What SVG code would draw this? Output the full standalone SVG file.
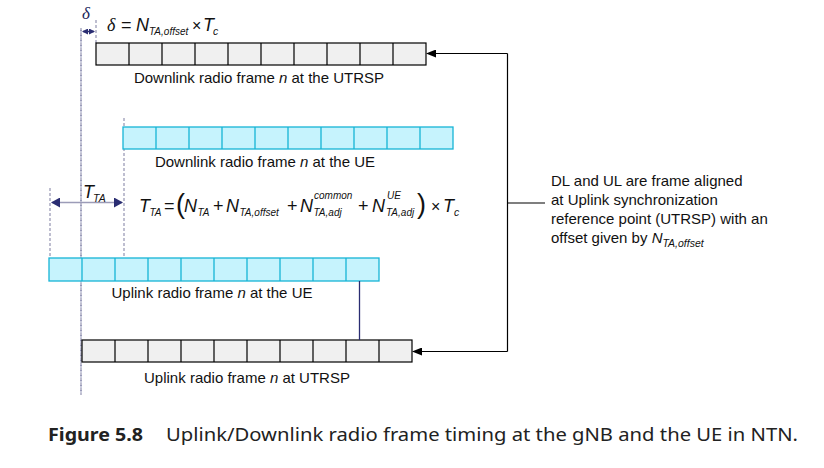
<svg xmlns="http://www.w3.org/2000/svg" width="824" height="468" viewBox="0 0 824 468">
<defs>
<marker id="ah" markerWidth="10" markerHeight="8" refX="9" refY="4" orient="auto" markerUnits="userSpaceOnUse"><path d="M0,0 L10,4 L0,8 Z" fill="#000"/></marker>
<marker id="nav" markerWidth="9" markerHeight="10" refX="8" refY="5" orient="auto-start-reverse" markerUnits="userSpaceOnUse"><path d="M0,0 L9,5 L0,10 Z" fill="#2a2d72"/></marker>
<marker id="dot" markerWidth="6" markerHeight="6" refX="5" refY="3" orient="auto-start-reverse" markerUnits="userSpaceOnUse"><path d="M0,0 L6,3 L0,6 Z" fill="#2a2d72"/></marker>
</defs>
<style>
.t{font-family:"Liberation Sans",Arial,sans-serif;font-size:15px;fill:#111}
.m{font-family:"Liberation Sans",Arial,sans-serif;font-style:italic;fill:#111}
.gr{fill:#f0f0f0;stroke:#000;stroke-width:1.2}
.grl{stroke:#000;stroke-width:1.2;fill:none}
.cy{fill:#c6f3fd;stroke:#16b4d6;stroke-width:1.3}
.cyl{stroke:#16b4d6;stroke-width:1.3;fill:none}
.dash{stroke:#a3a3bd;stroke-width:1.4;stroke-dasharray:3,2;fill:none}
.cap{font-family:"Noto Sans","Open Sans",sans-serif;font-size:18px;fill:#222}
</style>
<rect width="824" height="468" fill="#fff"/>

<g id="guides">
<line class="dash" x1="81" y1="28" x2="81" y2="395"/>
<line x1="81" y1="30" x2="81" y2="395" stroke="#2a2d72" stroke-width="0.8" stroke-dasharray="3,2" opacity="0.6"/>
<line class="dash" x1="96" y1="20" x2="96" y2="43"/>
<line class="dash" x1="124" y1="118" x2="124" y2="258"/>
<line class="dash" x1="50" y1="188" x2="50" y2="258"/>
</g>

<g id="delta">
<text x="82" y="19" font-family="Liberation Serif,serif" font-style="italic" font-size="17" fill="#1a1f5a">δ</text>
<line x1="83" y1="31.5" x2="94" y2="31.5" stroke="#2a2d72" stroke-width="1.5" marker-start="url(#dot)" marker-end="url(#dot)"/>
<text x="107" y="31" class="m" font-size="18"><tspan font-family="Liberation Serif,serif">δ</tspan><tspan x="121" font-style="normal">=</tspan><tspan x="136">N</tspan><tspan x="149" dy="4" font-size="10">TA,offset</tspan><tspan x="192" dy="-4" font-style="normal" font-size="16">×</tspan><tspan x="203">T</tspan><tspan x="213" dy="4" font-size="10.5">c</tspan></text>
</g>

<g id="frame-dl-utrsp">
<rect class="gr" x="96" y="43" width="330" height="22"/>
<path class="grl" d="M129,43V65M162,43V65M195,43V65M228,43V65M261,43V65M294,43V65M327,43V65M360,43V65M393,43V65"/>
<text class="t" x="259" y="83" text-anchor="middle">Downlink radio frame <tspan font-style="italic">n</tspan> at the UTRSP</text>
</g>

<g id="frame-dl-ue">
<rect class="cy" x="123" y="127" width="330" height="22"/>
<path class="cyl" d="M156,127V149M189,127V149M222,127V149M255,127V149M288,127V149M321,127V149M354,127V149M387,127V149M420,127V149"/>
<text class="t" x="265" y="167" text-anchor="middle">Downlink radio frame <tspan font-style="italic">n</tspan> at the UE</text>
</g>

<g id="tta">
<line x1="52" y1="202.5" x2="122" y2="202.5" stroke="#9c9cb8" stroke-width="1.5" marker-start="url(#nav)" marker-end="url(#nav)"/>
<text class="m" x="83" y="198" font-size="18">T<tspan x="93" dy="4" font-size="10.5">TA</tspan></text>
<text class="m" x="139" y="212" font-size="18">T<tspan x="149.5" dy="4" font-size="10">TA</tspan><tspan x="164" dy="-4" font-style="normal">=</tspan><tspan x="176" font-style="normal" font-size="27" dy="1">(</tspan><tspan x="184" dy="-1">N</tspan><tspan x="197.5" dy="4" font-size="10">TA</tspan><tspan x="213" dy="-4" font-style="normal">+</tspan><tspan x="226">N</tspan><tspan x="239.5" dy="4" font-size="10">TA,offset</tspan><tspan x="287" dy="-4" font-style="normal">+</tspan><tspan x="300">N</tspan><tspan x="314" dy="-13" font-size="10">common</tspan><tspan x="313.5" dy="17" font-size="10">TA,adj</tspan><tspan x="358" dy="-4" font-style="normal">+</tspan><tspan x="372">N</tspan><tspan x="387" dy="-13" font-size="10">UE</tspan><tspan x="386" dy="17" font-size="10">TA,adj</tspan><tspan x="417" dy="-3" font-style="normal" font-size="27">)</tspan><tspan x="431" dy="-1" font-style="normal" font-size="16">×</tspan><tspan x="443">T</tspan><tspan x="454" dy="4" font-size="10.5">c</tspan></text>
</g>

<g id="frame-ul-ue">
<rect class="cy" x="49" y="258" width="330" height="23"/>
<path class="cyl" d="M82,258V281M115,258V281M148,258V281M181,258V281M214,258V281M247,258V281M280,258V281M313,258V281M346,258V281"/>
<text class="t" x="212" y="298" text-anchor="middle">Uplink radio frame <tspan font-style="italic">n</tspan> at the UE</text>
</g>

<g id="frame-ul-utrsp">
<rect class="gr" x="82" y="340" width="330" height="22"/>
<path class="grl" d="M115,340V362M148,340V362M181,340V362M214,340V362M247,340V362M280,340V362M313,340V362M346,340V362M379,340V362"/>
<text class="t" x="247" y="383" text-anchor="middle">Uplink radio frame <tspan font-style="italic">n</tspan> at UTRSP</text>
</g>

<g id="note">
<text class="t" x="551" y="186">DL and UL are frame aligned</text>
<text class="t" x="551" y="205">at Uplink synchronization</text>
<text class="t" x="551" y="224">reference point (UTRSP) with an</text>
<text class="t" x="551" y="243">offset given by <tspan font-style="italic">N</tspan><tspan font-style="italic" font-size="10.5" dy="4">TA,offset</tspan></text>
</g>

<g id="connectors" fill="none">
<line x1="359.5" y1="281" x2="359.5" y2="340" stroke="#2a2d72" stroke-width="1.3"/>
<polyline points="545,203 507.5,203" stroke="#000" stroke-width="1.2"/>
<polyline points="507.5,53.5 507.5,351.5" stroke="#000" stroke-width="1.2"/>
<line x1="507.5" y1="53.5" x2="427" y2="53.5" stroke="#000" stroke-width="1.2" marker-end="url(#ah)"/>
<line x1="507.5" y1="351.5" x2="413" y2="351.5" stroke="#000" stroke-width="1.2" marker-end="url(#ah)"/>
</g>

<g id="caption">
<text class="cap" x="48" y="441" font-weight="bold" textLength="95" lengthAdjust="spacingAndGlyphs">Figure 5.8</text>
<text class="cap" x="166" y="441" textLength="632" lengthAdjust="spacingAndGlyphs">Uplink/Downlink radio frame timing at the gNB and the UE in NTN.</text>
</g>
</svg>
